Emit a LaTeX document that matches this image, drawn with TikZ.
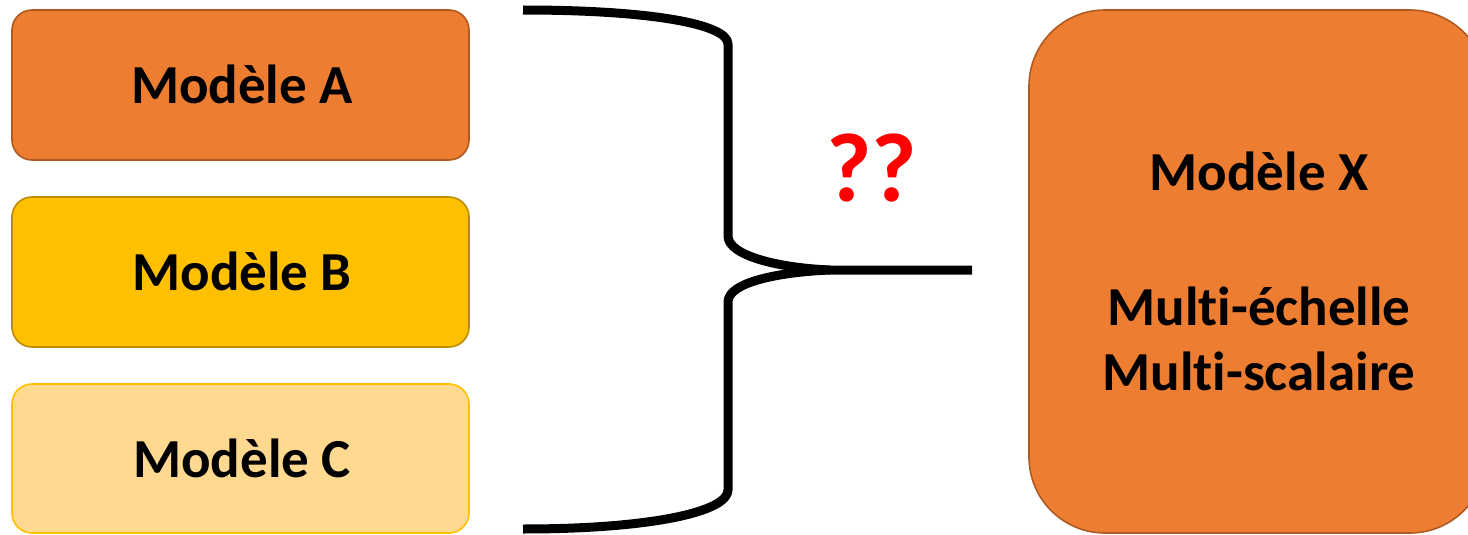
\documentclass[tikz,border=0pt]{standalone}
\usepackage{fontspec}
\setmainfont[Ligatures=NoCommon,RawFeature={-liga;-dlig;-calt}]{Carlito}
\definecolor{orA}{HTML}{ED7D31}
\definecolor{orAb}{HTML}{AE5A21}
\definecolor{yeB}{HTML}{FFC000}
\definecolor{yeBb}{HTML}{BC8C00}
\definecolor{yeC}{HTML}{FFD98F}
\definecolor{yeCb}{HTML}{FFC000}
\definecolor{qred}{HTML}{FF0000}
\begin{document}
\begin{tikzpicture}[x=1pt,y=-1pt,
  model/.style={rounded corners=20pt,line width=1.6pt},
  lbl/.style={font=\fontsize{55}{66}\selectfont\bfseries,anchor=base,inner sep=0pt},
  brace/.style={line width=9pt,line join=round}]
\useasboundingbox (0,0) rectangle (1468,535);
\fill[white] (0,0) rectangle (1468,535);
% boxes
\draw[model,fill=orA,draw=orAb] (12,10) rectangle (469,160);
\draw[model,fill=yeB,draw=yeBb] (12,197) rectangle (469,347);
\draw[model,fill=yeC,draw=yeCb] (12,384) rectangle (469,533);
\draw[rounded corners=76pt,line width=1.6pt,fill=orA,draw=orAb] (1029,10) rectangle (1486,533);
% labels
\node[lbl] (ma) at (242,103) {Modèle A};
\node[lbl] (mb) at (242,290) {Modèle B};
\node[lbl] (mc) at (242,477) {Modèle C};
\node[lbl] (mx) at (1259,190) {Modèle X};
\node[lbl] (me) at (1259,325) {Mult\kern0pt i-échelle};
\node[lbl] (ms) at (1259,390) {Mult\kern0pt i-scalaire};
\node[font=\fontsize{98}{110}\selectfont\bfseries,text=qred,anchor=base,inner sep=0pt] (qq) at (872,201) {??};
% brace
\coordinate (tip) at (830,270);
\coordinate (tend) at (972,270);
\draw[brace] (523,10) .. controls (650,10) and (728,24) .. (728,44) -- (728,236)
  .. controls (728,256) and (780,268) .. (tip) -- (tend);
\draw[brace] (tip) .. controls (780,272) and (728,282) .. (728,302) -- (728,490)
  .. controls (728,512) and (650,529) .. (523,529);
\end{tikzpicture}
\end{document}
